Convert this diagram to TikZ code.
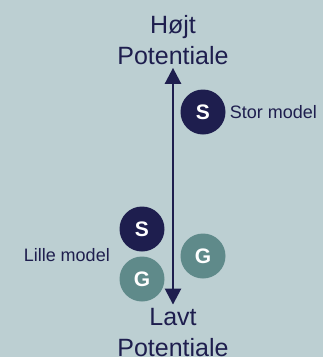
\documentclass[tikz,border=0pt]{standalone}
\usepackage{fontspec}
\setmainfont{Liberation Sans}
\usetikzlibrary{arrows.meta,positioning}
\definecolor{mist}{HTML}{BCCFD2}
\definecolor{navy}{HTML}{1E1E4E}
\definecolor{sea}{HTML}{5F8A8A}
\tikzset{
  endlabel/.style={align=center, text=navy, inner sep=0pt,
    font=\fontsize{25}{31}\selectfont},
  modelball/.style={circle, minimum size=45pt, inner sep=0pt, text=white,
    font=\fontsize{21}{21}\selectfont\bfseries},
  smallball/.style={modelball, fill=navy},
  bigball/.style={modelball, fill=sea},
  sidenote/.style={text=navy, inner sep=0pt, font=\fontsize{18}{18}\selectfont},
  scalearrow/.style={{Triangle[length=16pt,width=16pt]}-{Triangle[length=16pt,width=16pt]},
    line width=2.6pt, draw=navy}
}
\begin{document}
\begin{tikzpicture}[x=1pt, y=-1pt]
  \fill[mist] (0,0) rectangle (323,357);
  \useasboundingbox (0,0) rectangle (323,357);
  \node[endlabel] (high) at (173,40) {Højt\\Potentiale};
  \node[endlabel] (low) at (173,333) {Lavt\\Potentiale};
  \node[smallball] (sbig) at (203,112) {S};
  \node[sidenote, right=4pt of sbig] (stor) {Stor model};
  \node[smallball] (ssmall) at (142,229) {S};
  \node[bigball] (gleft) at (142,279) {G};
  \node[bigball] (gright) at (203,256) {G};
  \node[sidenote, anchor=east] (lille) at (110,255) {Lille model};
  \draw[scalearrow, shorten <=3pt, shorten >=4pt] (high.south) -- (low.north);
\end{tikzpicture}
\end{document}
